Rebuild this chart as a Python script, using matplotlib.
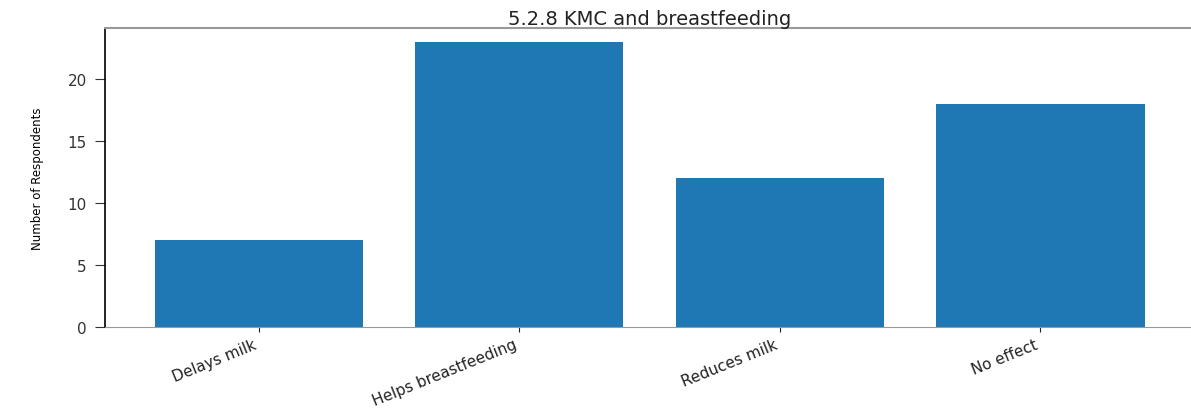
import matplotlib
matplotlib.use("Agg")
import matplotlib.pyplot as plt

# Data
categories = ["Delays milk", "Helps breastfeeding", "Reduces milk", "No effect"]
counts = [7, 23, 12, 18]
title = "5.2.8 KMC and breastfeeding"
ylabel = "Number of Respondents"

fig = plt.figure(figsize=(11.91, 4.10), dpi=100)
ax = fig.add_axes([105 / 1191, 1 - 328 / 410, 1089 / 1191, 299 / 410])

ax.bar(categories, counts, color="#1f77b4", width=0.8)

ax.set_title(title, fontsize=14, pad=3, color="#222222")
ax.set_ylabel(ylabel, fontsize=8.5, family=["Liberation Sans Narrow", "DejaVu Sans"], labelpad=17)
ax.tick_params(axis="y", labelsize=11, colors="#333333", length=7, pad=6)
ax.tick_params(axis="x", labelsize=11, colors="#222222")
plt.setp(ax.get_xticklabels(), rotation=22, ha="right")

ax.spines["left"].set_color("black")
ax.spines["left"].set_linewidth(1.2)
ax.spines["bottom"].set_color("#999999")
ax.spines["top"].set_color("#999999")
ax.spines["top"].set_linewidth(1.5)
ax.spines["right"].set_color("#999999")

plt.savefig("out.png", dpi=100)
